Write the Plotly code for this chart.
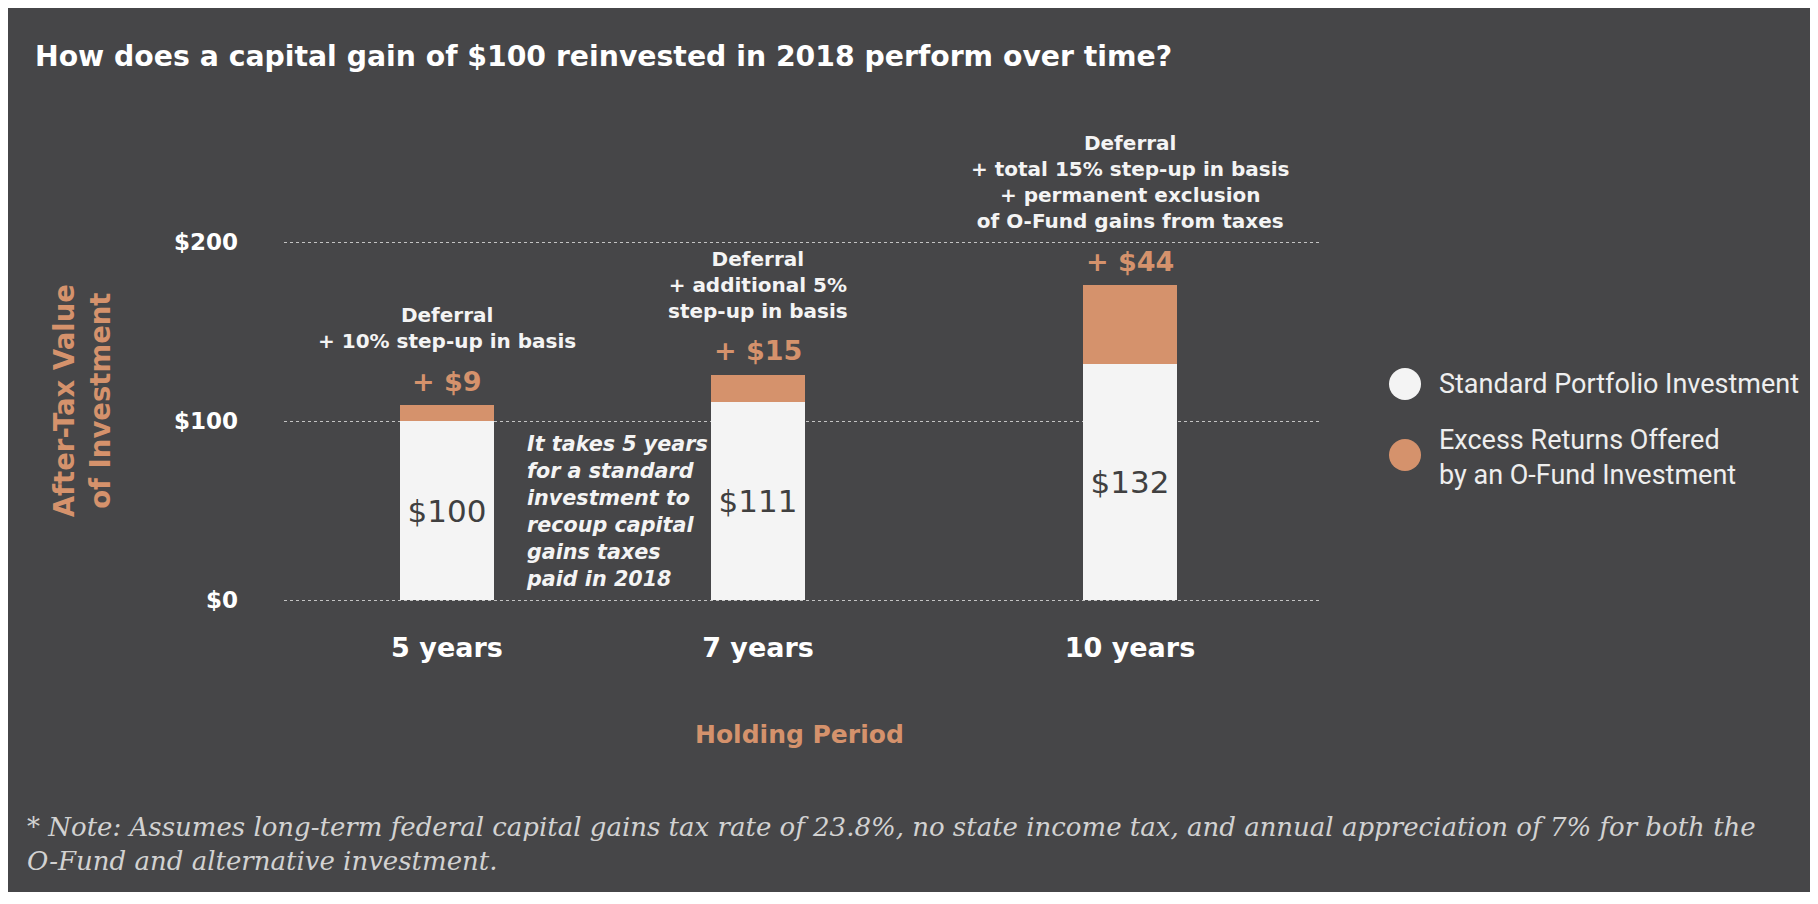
import plotly.graph_objects as go

# chart data
periods = ['5 years', '7 years', '10 years']
standard_values = [100, 111, 132]
excess_values = [9, 15, 44]
series_names = ['Standard Portfolio Investment', 'Excess Returns Offered<br>by an O-Fund Investment']
benefit_notes = [
    'Deferral<br>+ 10% step-up in basis',
    'Deferral<br>+ additional 5%<br>step-up in basis',
    'Deferral<br>+ total 15% step-up in basis<br>+ permanent exclusion<br>of O-Fund gains from taxes',
]
y_ticks = [0, 100, 200]
y_tick_labels = ['$0', '$100', '$200']

# layout slots for the bars (the original spaces them unevenly)
slots = [0, 1, 2.196]

bg = '#464648'
orange = '#d5926c'
bar_white = '#f4f4f4'
sans = 'DejaVu Sans'

W, H = 1802, 884
plot_l, plot_r, plot_t, plot_b = 276, 1312, 127, 594


def px_x(px):
    return (px - plot_l) / (plot_r - plot_l)


def px_y(px):
    return (plot_b - px) / (plot_b - plot_t)


totals = [s + e for s, e in zip(standard_values, excess_values)]

fig = go.Figure()

fig.add_trace(go.Bar(
    x=slots, y=standard_values, width=0.305, name=series_names[0],
    marker=dict(color=bar_white, line=dict(width=0)),
    text=['$' + str(v) for v in standard_values],
    textposition='inside', insidetextanchor='middle',
    textfont=dict(family=sans, size=31, color='#404040'),
    showlegend=False, hoverinfo='skip',
))
fig.add_trace(go.Bar(
    x=slots, y=excess_values, width=0.305, name=series_names[1],
    marker=dict(color=orange, line=dict(width=0)),
    showlegend=False, hoverinfo='skip',
))

annotations = []
for i in range(len(periods)):
    annotations.append(dict(
        x=slots[i], y=totals[i], xref='x', yref='y',
        text='<b>+ $' + str(excess_values[i]) + '</b>',
        showarrow=False, yanchor='middle', yshift=24,
        font=dict(family=sans, size=27, color=orange),
    ))
    annotations.append(dict(
        x=slots[i], y=totals[i], xref='x', yref='y',
        text='<b>' + benefit_notes[i] + '</b>',
        showarrow=False, yanchor='bottom', yshift=50,
        font=dict(family=sans, size=20, color='#f4f4f4'),
    ))

annotations.append(dict(
    x=slots[0], y=95, xref='x', yref='y', xanchor='left', yanchor='top',
    xshift=77, align='left', showarrow=False,
    text='<b><i>It takes 5 years<br>for a standard<br>investment to<br>recoup capital<br>gains taxes<br>paid in 2018</i></b>',
    font=dict(family=sans, size=20.7, color='#f4f4f4'),
))
annotations.append(dict(
    x=px_x(74), y=0.43, xref='paper', yref='paper', textangle=-90,
    xanchor='center', yanchor='middle',
    showarrow=False, text='<b>After-Tax Value<br>of Investment</b>',
    font=dict(family=sans, size=27.5, color=orange),
))
annotations.append(dict(
    x=px_x(791), y=px_y(726), xref='paper', yref='paper', showarrow=False,
    xanchor='center', yanchor='middle',
    text='<b>Holding Period</b>',
    font=dict(family=sans, size=25, color=orange),
))
annotations.append(dict(
    x=px_x(17), y=px_y(836), xref='paper', yref='paper', showarrow=False,
    xanchor='left', yanchor='middle', align='left',
    text='<i>* Note: Assumes long-term federal capital gains tax rate of 23.8%, no state income tax, and annual appreciation of 7% for both the<br>O-Fund and alternative investment.</i>',
    font=dict(family='DejaVu Serif', size=26, color='#d2d2d2'),
))

# hand-built legend with large round swatches
legend_rows = [(376, 376), (447, 449)]
swatches = [bar_white, orange]
shapes = []
for (cy, ty), color, name in zip(legend_rows, swatches, series_names):
    shapes.append(dict(
        type='circle', xref='paper', yref='paper',
        xsizemode='pixel', ysizemode='pixel',
        xanchor=px_x(1397), yanchor=px_y(cy),
        x0=-16, x1=16, y0=-16, y1=16,
        fillcolor=color, line=dict(width=0),
    ))
    annotations.append(dict(
        x=px_x(1429), y=px_y(ty), xref='paper', yref='paper', showarrow=False,
        xanchor='left', yanchor='middle', align='left', text=name,
        font=dict(family='Roboto', size=27, color='#eeeeee'),
    ))

fig.update_layout(
    width=W, height=H,
    barmode='stack', bargap=0, showlegend=False,
    paper_bgcolor=bg, plot_bgcolor=bg,
    margin=dict(l=plot_l, r=W - plot_r, t=plot_t, b=H - plot_b, pad=0),
    title=dict(
        text='<b>How does a capital gain of $100 reinvested in 2018 perform over time?</b>',
        x=27 / W, xanchor='left', y=1 - 48 / H, yanchor='middle',
        font=dict(family=sans, size=28.3, color='white'),
    ),
    xaxis=dict(
        range=[-0.524, 2.807], tickvals=slots, ticktext=periods,
        showgrid=False, zeroline=False, showline=False, ticks='',
        tickfont=dict(family=sans, size=27, color='white', weight='bold'),
        ticklabelstandoff=27,
    ),
    yaxis=dict(
        range=[-1, 260], tickvals=y_ticks, ticktext=y_tick_labels,
        showgrid=True, gridcolor='#c4c4c4', gridwidth=1, griddash='dot',
        zeroline=False, showline=False, ticks='',
        tickfont=dict(family=sans, size=23, color='white', weight='bold'),
        ticklabelstandoff=45,
    ),
    annotations=annotations,
    shapes=shapes,
)

fig.write_html('out.html')
